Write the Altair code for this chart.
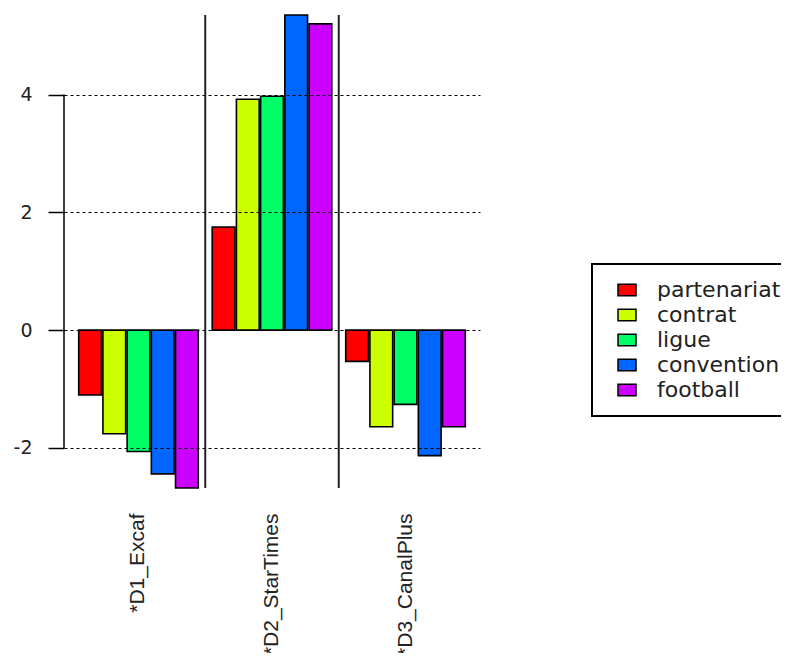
import altair as alt
import pandas as pd

groups = ["*D1_Excaf", "*D2_StarTimes", "*D3_CanalPlus"]
series = ["partenariat", "contrat", "ligue", "convention", "football"]
colors = ["#FF0000", "#CCFF00", "#00FF66", "#0066FF", "#CC00FF"]
partenariat = [-1.10, 1.75, -0.53]
contrat = [-1.76, 3.92, -1.64]
ligue = [-2.06, 3.97, -1.26]
convention = [-2.44, 5.35, -2.13]
football = [-2.68, 5.20, -1.64]
y_ticks = [-2, 0, 2, 4]

values = [partenariat, contrat, ligue, convention, football]
rows = []
for s, vals in zip(series, values):
    for g, v in zip(groups, vals):
        rows.append({"group": g, "series": s, "value": v})
df = pd.DataFrame(rows)

all_vals = [v for vals in values for v in vals]
ydom = [min(all_vals), max(all_vals)]

x_scale = alt.Scale(domain=groups, paddingInner=0, paddingOuter=0.058)
y_scale = alt.Scale(domain=ydom, nice=False, zero=False)

x_axis = alt.Axis(labelAngle=-90, domain=False, ticks=False, grid=False,
                  labelFont="Liberation Sans", labelFontSize=21, labelColor="#222",
                  labelPadding=25, labelLimit=400, title=None)
y_axis = alt.Axis(values=y_ticks, grid=True, gridDash=[3, 3], gridColor="black",
                  gridWidth=1, gridOpacity=1, domain=False, tickSize=16,
                  tickColor="black", tickWidth=1.5, labelFont="DejaVu Sans",
                  labelFontSize=19, labelColor="#222", labelPadding=16,
                  labelExpr="toString(datum.value)",
                  title=None, zindex=1)

legend = alt.Legend(orient="none", legendX=528, legendY=249, title=None,
                    strokeColor="black", padding=15,
                    symbolType="M-1,-0.65H1V0.65H-1Z", symbolSize=324,
                    symbolStrokeColor="black", symbolStrokeWidth=1.5,
                    symbolOffset=9, labelFont="DejaVu Sans", labelFontSize=22,
                    labelOffset=19, rowPadding=3, labelColor="#222")

bars = alt.Chart(df).mark_bar(stroke="black", strokeWidth=1.6, opacity=1).encode(
    x=alt.X("group:N", sort=groups, scale=x_scale, axis=x_axis, title=None),
    xOffset=alt.XOffset("series:N", sort=series,
                        scale=alt.Scale(domain=series, paddingInner=0.06, paddingOuter=0.288)),
    y=alt.Y("value:Q", scale=y_scale, axis=y_axis, title=None, stack=None),
    y2=alt.datum(0),
    color=alt.Color("series:N", sort=series,
                    scale=alt.Scale(domain=series, range=colors), legend=legend),
)

sep_df = pd.DataFrame({"group": groups[1:]})
seps = alt.Chart(sep_df).mark_rule(color="#222", strokeWidth=2).encode(
    x=alt.X("group:N", sort=groups, scale=x_scale, axis=x_axis, title=None, bandPosition=0),
)

axis_df = pd.DataFrame({"lo": [min(y_ticks)], "hi": [max(y_ticks)]})
axline = alt.Chart(axis_df).mark_rule(color="black", strokeWidth=1.5).encode(
    x=alt.value(0),
    y=alt.Y("lo:Q", scale=y_scale, axis=y_axis, title=None),
    y2="hi:Q",
)

chart = alt.layer(bars, seps, axline).properties(
    width=416, height=473,
    autosize=alt.AutoSizeParams(type="none"),
    padding={"left": 56, "top": 7, "right": 301, "bottom": 165},
    background="white",
).configure_view(stroke=None).configure_legend(strokeWidth=2)

chart.save("out.html", embed_options={"renderer": "svg", "actions": False})
